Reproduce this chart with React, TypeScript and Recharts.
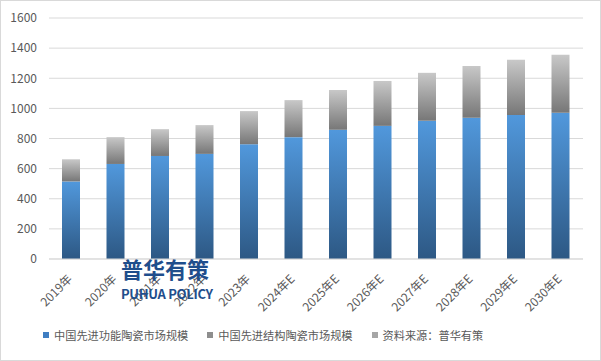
import { BarChart, Bar, XAxis, YAxis, CartesianGrid, Legend } from "recharts";

const years = ["2019年", "2020年", "2021年", "2022年", "2023年", "2024年E", "2025年E", "2026年E", "2027年E", "2028年E", "2029年E", "2030年E"];
const functional = [515, 631, 684, 698, 762, 809, 858, 884, 918, 938, 956, 971];
const structural = [147, 178, 178, 191, 220, 246, 264, 298, 318, 344, 366, 385];
const yTicks = [0, 200, 400, 600, 800, 1000, 1200, 1400, 1600];

const data = years.map((year, i) => ({
  year,
  functional: functional[i],
  structural: structural[i],
}));

const FONT = '"Noto Sans CJK SC", "Noto Sans", sans-serif';

const LEGEND_ITEMS = [
  { label: "中国先进功能陶瓷市场规模", color: "#3f7ec2" },
  { label: "中国先进结构陶瓷市场规模", color: "#8e8e8e" },
  { label: "资料来源：普华有策", color: "#a6a6a6" },
];

function XTick(props: any) {
  const { x, y, payload } = props;
  return (
    <g transform={`translate(${x - 1},${y + 10})`}>
      <text
        textAnchor="end"
        transform="rotate(-45)"
        fontSize={12}
        fill="#595959"
        fontFamily={FONT}
        dy={4}
      >
        {payload.value}
      </text>
    </g>
  );
}

function LegendContent() {
  return (
    <div style={{ display: "flex", fontFamily: FONT, fontSize: 11.2, color: "#595959" }}>
      {LEGEND_ITEMS.map((item) => (
        <div key={item.label} style={{ display: "flex", alignItems: "center", marginRight: 19 }}>
          <span
            style={{
              display: "inline-block",
              width: 6,
              height: 6,
              backgroundColor: item.color,
              marginRight: 5,
            }}
          />
          {item.label}
        </div>
      ))}
    </div>
  );
}

export default function App() {
  return (
    <div style={{ position: "fixed", left: 0, top: 0, width: 601, height: 361, background: "#fff" }}>
      <BarChart
        width={601}
        height={361}
        data={data}
        margin={{ top: 18, right: 18, bottom: 10, left: 0 }}
        barSize={18}
      >
        <defs>
          <linearGradient id="blueGrad" x1="0" y1="0" x2="0" y2="1">
            <stop offset="0%" stopColor="#5198dc" />
            <stop offset="100%" stopColor="#2d5884" />
          </linearGradient>
          <linearGradient id="grayGrad" x1="0" y1="0" x2="0" y2="1">
            <stop offset="0%" stopColor="#c8c8c8" />
            <stop offset="100%" stopColor="#777777" />
          </linearGradient>
        </defs>
        <CartesianGrid vertical={false} stroke="#d9d9d9" />
        <XAxis
          dataKey="year"
          tick={<XTick />}
          tickLine={false}
          axisLine={{ stroke: "#d9d9d9" }}
          interval={0}
          height={72}
        />
        <YAxis
          domain={[0, 1600]}
          ticks={yTicks}
          width={49}
          tickLine={false}
          axisLine={false}
          tickMargin={6}
          tick={{ fontSize: 12, fill: "#595959", fontFamily: FONT }}
        />
        <Legend
          verticalAlign="bottom"
          content={<LegendContent />}
          wrapperStyle={{ left: 43, bottom: 14, width: 540, height: 20 }}
        />
        <Bar dataKey="functional" stackId="a" fill="url(#blueGrad)" isAnimationActive={false} />
        <Bar dataKey="structural" stackId="a" fill="url(#grayGrad)" isAnimationActive={false} />
      </BarChart>
      <div
        style={{
          position: "absolute",
          left: 121,
          top: 257,
          color: "#1f4e8c",
          fontFamily: FONT,
          fontWeight: 700,
          lineHeight: 1,
          pointerEvents: "none",
        }}
      >
        <div style={{ fontSize: 22, letterSpacing: 0 }}>普华有策</div>
        <div style={{ fontSize: 13, marginTop: 8, letterSpacing: -0.3 }}>PUHUA POLICY</div>
      </div>
      <div
        style={{
          position: "absolute",
          inset: 0,
          border: "1px solid #d9d9d9",
          pointerEvents: "none",
        }}
      />
    </div>
  );
}
